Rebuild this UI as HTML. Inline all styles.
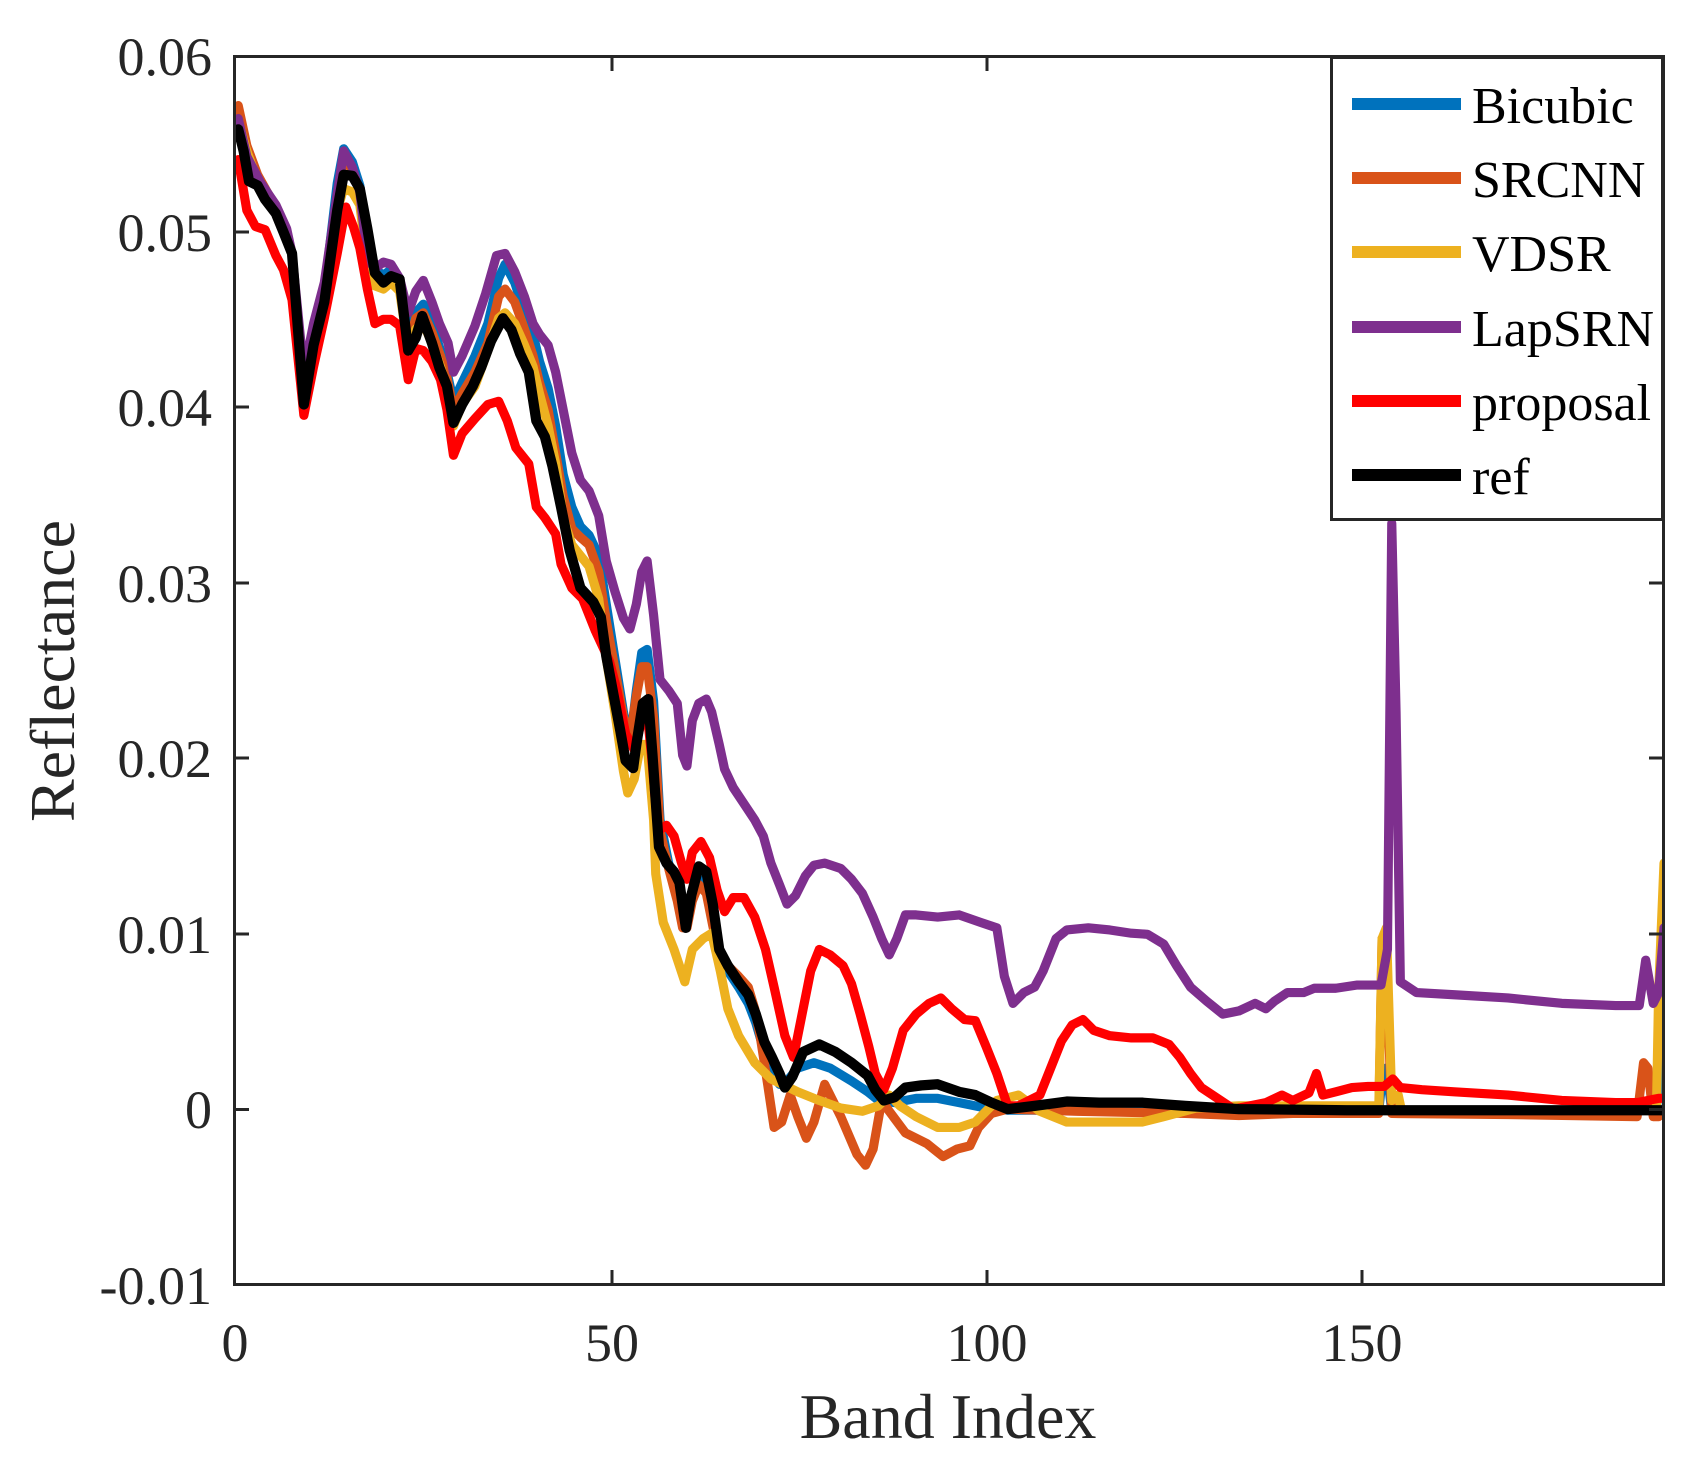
<!DOCTYPE html>
<html><head><meta charset="utf-8"><style>
html,body{margin:0;padding:0;background:#fff;}
svg{display:block;}
text{font-family:"Liberation Serif",serif;fill:#262626;}
</style></head><body>
<svg width="1691" height="1464" viewBox="0 0 1691 1464" xmlns="http://www.w3.org/2000/svg">
<defs><clipPath id="c"><rect x="234" y="56" width="1430" height="1229"/></clipPath></defs>
<rect width="1691" height="1464" fill="#fff"/>
<g clip-path="url(#c)">
<g transform="matrix(1.07605 0 0 1.079 1.5 -0.1)" fill="none" stroke-width="8.5" stroke-linejoin="round" stroke-linecap="round">
<path stroke="#0072BD" d="M220,112 L228,142 L238,170 L248,185 L258,200 L265,215 L270,235 L281,360 L290,310 L300,270 L312,170 L318,138 L326,150 L333,172 L340,225 L347,250 L355,255 L362,250 L370,258 L378,310 L385,290 L392,282 L400,300 L408,325 L414,345 L420,372 L428,355 L440,330 L452,300 L462,258 L468,245 L477,262 L486,290 L494,310 L500,335 L508,360 L515,395 L522,440 L530,470 L538,488 L546,496 L555,515 L562,560 L570,610 L578,660 L584,690 L590,640 L595,605 L600,602 L606,650 L612,760 L620,800 L628,830 L633,855 L637,855 L642,830 L648,815 L655,820 L661,850 L667,880 L675,900 L685,915 L694,930 L701,948 L709,975 L716,995 L723,1005 L730,1002 L740,990 L755,985 L770,990 L790,1002 L805,1012 L815,1020 L830,1022 L850,1018 L870,1018 L890,1022 L910,1026 L935,1029 L1000,1029 L1280,1029 L1283,1000 L1287,990 L1292,1029 L1538,1029 L1545,935"/>
<path stroke="#D95319" d="M220,98 L228,135 L238,162 L248,180 L258,198 L265,215 L270,235 L281,365 L290,315 L300,275 L312,180 L318,145 L326,158 L333,178 L340,235 L347,258 L355,262 L362,258 L370,268 L378,320 L385,295 L392,290 L400,308 L408,330 L414,350 L420,380 L428,365 L440,345 L452,318 L462,275 L468,268 L477,280 L486,305 L494,330 L500,355 L508,380 L515,420 L522,460 L530,490 L538,498 L546,505 L555,530 L562,575 L570,620 L578,665 L584,685 L590,645 L595,618 L600,618 L606,665 L612,770 L620,805 L628,835 L633,860 L637,860 L642,835 L648,820 L655,828 L661,858 L667,885 L675,895 L685,905 L694,915 L700,935 L705,960 L712,1005 L718,1045 L725,1040 L733,1015 L740,1035 L748,1055 L755,1040 L765,1005 L780,1035 L795,1070 L803,1080 L810,1065 L818,1020 L825,1030 L840,1050 L860,1060 L875,1072 L888,1065 L900,1062 L908,1045 L920,1032 L935,1028 L1000,1030 L1100,1032 L1150,1034 L1200,1032 L1280,1032 L1283,870 L1287,900 L1292,1032 L1400,1033 L1520,1035 L1526,985 L1530,990 L1535,1035 L1540,1035"/>
<path stroke="#EDB120" d="M220,112 L228,140 L238,168 L248,185 L258,200 L265,215 L270,235 L281,365 L290,320 L300,285 L312,195 L318,175 L326,178 L333,190 L340,245 L347,265 L355,268 L362,262 L370,270 L378,325 L385,305 L392,300 L400,318 L408,340 L414,360 L420,395 L428,375 L440,358 L452,325 L462,295 L468,290 L477,300 L486,320 L494,340 L500,365 L508,395 L515,430 L522,480 L530,505 L538,515 L546,525 L555,555 L562,610 L570,660 L578,715 L582,735 L588,722 L594,690 L600,690 L606,760 L608,810 L615,855 L625,880 L635,910 L642,880 L652,870 L660,865 L668,900 L675,935 L685,960 L700,985 L715,1000 L740,1012 L760,1020 L780,1027 L800,1030 L815,1025 L825,1015 L835,1025 L850,1035 L870,1045 L890,1045 L905,1040 L915,1030 L925,1020 L945,1015 L965,1030 L990,1040 L1060,1040 L1080,1035 L1110,1027 L1150,1025 L1280,1025 L1283,870 L1287,860 L1292,1020 L1298,1015 L1301,1029 L1538,1029 L1540,920 L1545,800"/>
<path stroke="#7E2F8E" d="M220,110 L228,145 L240,168 L255,190 L265,212 L270,235 L281,345 L290,300 L300,262 L312,180 L318,140 L326,155 L333,178 L340,240 L347,249 L355,243 L362,245 L370,258 L378,290 L385,270 L392,260 L400,280 L407,300 L415,318 L420,345 L428,330 L440,302 L450,272 L460,237 L468,235 L477,252 L486,275 L494,300 L500,310 L508,320 L515,345 L523,385 L530,420 L538,445 L546,455 L555,478 L562,520 L570,548 L578,573 L584,583 L590,560 L595,530 L600,520 L606,570 L612,630 L620,640 L628,652 L633,700 L637,710 L642,668 L648,652 L655,648 L660,660 L667,690 L672,713 L680,730 L690,745 L700,760 L708,775 L715,800 L723,820 L730,838 L738,830 L747,812 L755,802 L765,800 L780,805 L790,815 L800,828 L810,850 L818,870 L825,885 L832,870 L840,848 L850,848 L870,850 L890,848 L910,855 L925,860 L932,905 L940,930 L950,920 L960,915 L968,900 L980,870 L990,862 L1010,860 L1030,862 L1050,865 L1065,866 L1080,875 L1092,895 L1105,915 L1120,928 L1135,940 L1150,937 L1165,930 L1175,935 L1183,928 L1195,920 L1210,920 L1220,916 L1240,916 L1260,913 L1282,913 L1288,880 L1292,485 L1296,660 L1300,910 L1315,920 L1350,922 L1400,925 L1450,930 L1500,932 L1522,932 L1528,890 L1535,930 L1540,920 L1545,860"/>
<path stroke="#FF0000" d="M220,148 L228,195 L236,210 L245,213 L255,237 L262,250 L270,278 L281,385 L290,340 L300,295 L312,235 L320,192 L327,210 L333,230 L340,268 L347,300 L355,296 L362,296 L370,302 L378,352 L385,323 L392,325 L400,335 L408,352 L414,380 L420,422 L428,402 L440,388 L452,375 L462,372 L470,390 L478,415 L490,430 L497,470 L505,480 L515,495 L520,523 L530,545 L540,555 L552,585 L565,613 L572,640 L580,680 L588,695 L595,668 L600,660 L604,700 L610,770 L618,765 L625,775 L632,800 L637,815 L642,790 L650,780 L658,795 L665,825 L672,845 L680,832 L690,832 L700,850 L710,880 L718,915 L728,960 L736,980 L744,940 L752,900 L760,880 L770,885 L782,895 L790,912 L798,940 L806,970 L812,995 L820,1010 L828,990 L838,955 L850,940 L862,930 L873,925 L883,935 L895,945 L905,946 L915,970 L925,995 L935,1025 L945,1025 L955,1020 L965,1015 L975,990 L985,965 L995,950 L1005,945 L1015,955 L1030,960 L1050,962 L1070,962 L1085,968 L1095,980 L1105,995 L1115,1008 L1130,1018 L1145,1028 L1160,1025 L1175,1022 L1190,1015 L1200,1020 L1215,1013 L1222,995 L1228,1015 L1240,1012 L1255,1008 L1270,1007 L1285,1007 L1293,1000 L1300,1008 L1320,1010 L1350,1012 L1400,1015 L1450,1020 L1500,1022 L1520,1022 L1540,1018 L1545,1018"/>
<path stroke="#000" stroke-width="9.5" d="M220,120 L225,140 L230,168 L238,172 L245,185 L255,198 L262,215 L270,235 L281,375 L290,320 L300,280 L312,195 L318,162 L326,163 L333,175 L340,212 L347,253 L355,262 L362,256 L370,259 L378,325 L385,313 L391,293 L400,318 L407,341 L414,358 L420,392 L428,375 L438,358 L446,340 L455,316 L466,295 L474,306 L482,328 L490,345 L497,390 L505,405 L512,432 L520,470 L528,510 L538,545 L550,558 L557,572 L562,608 L568,640 L575,677 L580,705 L587,712 L590,690 L596,652 L601,648 L605,700 L611,785 L618,800 L625,808 L630,818 L636,860 L641,830 L648,803 L655,808 L661,838 L667,880 L675,895 L685,910 L694,922 L701,940 L709,966 L716,980 L723,995 L728,1008 L735,998 L745,975 L760,968 L775,975 L790,985 L805,997 L812,1010 L820,1020 L830,1017 L840,1008 L855,1006 L870,1005 L890,1012 L905,1015 L920,1022 L935,1028 L960,1025 L990,1021 L1020,1022 L1060,1022 L1100,1025 L1150,1028 L1250,1029 L1400,1029 L1545,1029"/>
</g>
</g>
<g stroke="#262626" stroke-width="3" fill="none">
<rect x="234.5" y="56.5" width="1429" height="1228"/>
<path d="M234,1109.5h15M234,934h15M234,758h15M234,583h15M234,407h15M234,232h15M1664,1109.5h-15M1664,934h-15M1664,758h-15M1664,583h-15M1664,407h-15M1664,232h-15M612,1285v-15M987,1285v-15M1362,1285v-15M612,56v15M987,56v15M1362,56v15"/>
</g>
<g font-size="54" text-anchor="end">
<text x="212" y="75">0.06</text>
<text x="212" y="251">0.05</text>
<text x="212" y="426">0.04</text>
<text x="212" y="602">0.03</text>
<text x="212" y="777">0.02</text>
<text x="212" y="953">0.01</text>
<text x="212" y="1128">0</text>
<text x="212" y="1304">-0.01</text>
</g>
<g font-size="54" text-anchor="middle">
<text x="235" y="1361">0</text>
<text x="612" y="1361">50</text>
<text x="987" y="1361">100</text>
<text x="1362" y="1361">150</text>
</g>
<text x="948" y="1438" font-size="64" text-anchor="middle">Band Index</text>
<text transform="translate(74,671) rotate(-90)" font-size="64" text-anchor="middle">Reflectance</text>
<rect x="1331.5" y="57.5" width="331" height="462" fill="#fff" stroke="#262626" stroke-width="3"/>
<g stroke-width="12">
<path d="M1352,104h109" stroke="#0072BD"/>
<path d="M1352,178h109" stroke="#D95319"/>
<path d="M1352,252h109" stroke="#EDB120"/>
<path d="M1352,327h109" stroke="#7E2F8E"/>
<path d="M1352,401h109" stroke="#FF0000"/>
<path d="M1352,475h109" stroke="#000"/>
</g>
<g font-size="52">
<text x="1472" y="123" style="fill:#000">Bicubic</text>
<text x="1472" y="197" style="fill:#000">SRCNN</text>
<text x="1472" y="271" style="fill:#000">VDSR</text>
<text x="1472" y="346" style="fill:#000">LapSRN</text>
<text x="1472" y="420" style="fill:#000">proposal</text>
<text x="1472" y="494" style="fill:#000">ref</text>
</g>
</svg>
</body></html>
